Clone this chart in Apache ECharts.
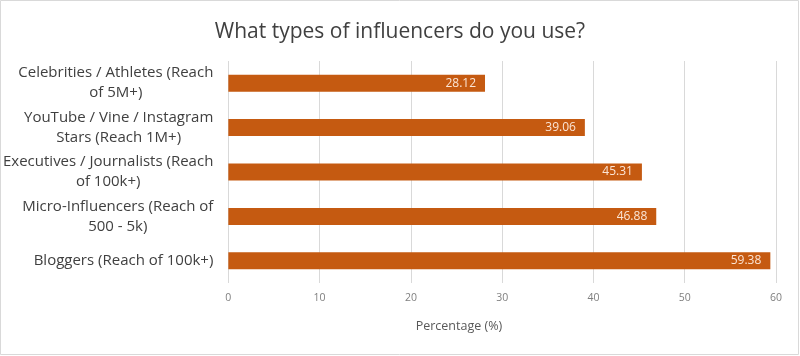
<!DOCTYPE html>
<html>
<head>
<meta charset="utf-8">
<script src="https://cdn.jsdelivr.net/npm/echarts@6/dist/echarts.min.js"></script>
<style>
html,body{margin:0;padding:0;background:#fff;}
#chart{width:800px;height:356px;}
</style>
</head>
<body>
<div id="chart"></div>
<script>
const categories = [
  "Celebrities / Athletes (Reach\nof 5M+)",
  "YouTube / Vine / Instagram\nStars (Reach 1M+)",
  "Executives / Journalists (Reach\nof 100k+)",
  "Micro-Influencers (Reach of\n500 - 5k)",
  "Bloggers (Reach of 100k+)"
];
const percentages = [28.12, 39.06, 45.31, 46.88, 59.38];
const xTicks = [0, 10, 20, 30, 40, 50, 60];

const chart = echarts.init(document.getElementById('chart'), null, {renderer: 'canvas'});
const font = '"Open Sans", "Noto Sans", sans-serif';
chart.setOption({
  backgroundColor: '#ffffff',
  animation: false,
  textStyle: {fontFamily: font},
  title: {
    text: 'What types of influencers do you use?',
    left: 'center',
    top: 17,
    textStyle: {fontFamily: font, fontSize: 21, fontWeight: 'normal', color: '#404040'}
  },
  graphic: [{
    type: 'rect',
    shape: {x: 0.5, y: 0.5, width: 798, height: 354},
    style: {fill: 'none', stroke: '#d9d9d9', lineWidth: 1},
    silent: true
  }],
  grid: {left: 228, right: 24, top: 61, bottom: 73, containLabel: false},
  xAxis: {
    type: 'value',
    min: xTicks[0],
    max: xTicks[xTicks.length - 1],
    interval: xTicks[1] - xTicks[0],
    name: 'Percentage (%)',
    nameLocation: 'middle',
    nameGap: 37,
    nameTextStyle: {fontFamily: font, fontSize: 12.5, color: '#595959', align: 'right'},
    axisLine: {show: false},
    axisTick: {show: false},
    axisLabel: {fontFamily: font, fontSize: 10.5, color: '#7f7f7f', margin: 10},
    splitLine: {show: true, lineStyle: {color: '#d9d9d9', width: 1}}
  },
  yAxis: {
    type: 'category',
    inverse: true,
    data: categories,
    axisLine: {show: false},
    axisTick: {show: false},
    axisLabel: {
      margin: 15,
      align: 'right',
      formatter: function (v) {
        return v.split('\n').map(function (l) { return '{c|' + l + '}'; }).join('\n');
      },
      rich: {
        c: {align: 'center', fontFamily: font, fontSize: 15, color: '#404040', lineHeight: 20}
      }
    }
  },
  series: [{
    type: 'bar',
    data: percentages,
    barWidth: 17,
    itemStyle: {color: '#c55a11'},
    label: {
      show: true,
      position: 'insideRight',
      distance: 9,
      color: '#fbe5d6',
      fontFamily: font,
      fontSize: 12,
      formatter: function (p) { return p.value.toFixed(2); }
    }
  }]
});
</script>
</body>
</html>
